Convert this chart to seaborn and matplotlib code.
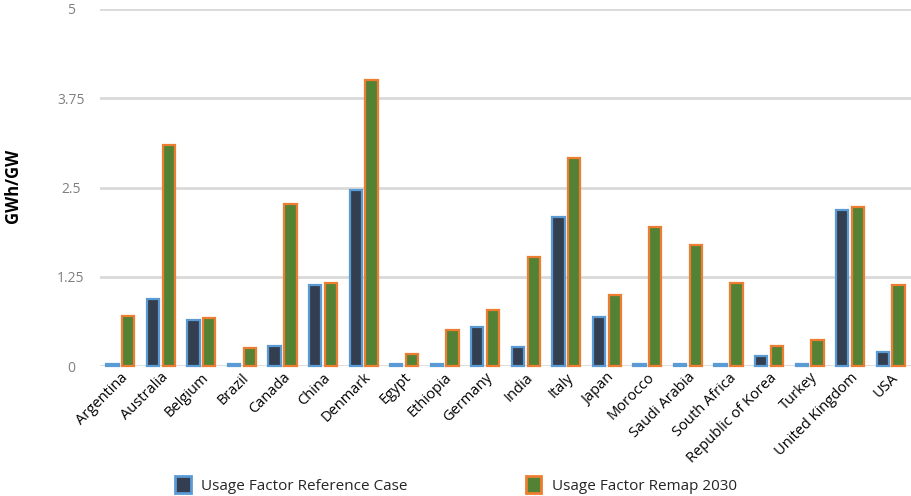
import matplotlib
matplotlib.use("Agg")
import matplotlib.pyplot as plt
import seaborn as sns
import pandas as pd
from matplotlib.patches import Patch

countries = ["Argentina", "Australia", "Belgium", "Brazil", "Canada", "China", "Denmark",
             "Egypt", "Ethiopia", "Germany", "India", "Italy", "Japan", "Morocco",
             "Saudi Arabia", "South Africa", "Republic of Korea", "Turkey",
             "United Kingdom", "USA"]
reference_case = [0.03, 0.94, 0.64, 0.03, 0.28, 1.13, 2.46, 0.03, 0.03, 0.54, 0.26, 2.08,
                  0.68, 0.03, 0.03, 0.03, 0.14, 0.03, 2.19, 0.20]
remap_2030 = [0.70, 3.10, 0.67, 0.25, 2.27, 1.16, 4.00, 0.17, 0.50, 0.79, 1.53, 2.92,
              1.00, 1.94, 1.69, 1.16, 0.28, 0.37, 2.22, 1.14]
series_names = ["Usage Factor Reference Case", "Usage Factor Remap 2030"]
y_ticks = [0, 1.25, 2.5, 3.75, 5]
y_tick_labels = ["0", "1.25", "2.5", "3.75", "5"]

fills = ["#333f50", "#548235"]
edges = ["#5b9bd5", "#ed7d31"]

df = pd.DataFrame({
    "country": countries * 2,
    "value": reference_case + remap_2030,
    "series": [series_names[0]] * len(countries) + [series_names[1]] * len(countries),
})

sns.set_theme(style="white")
plt.rcParams["font.family"] = ["Open Sans", "DejaVu Sans"]

fig = plt.figure(figsize=(9.12, 4.96), dpi=100)
ax = fig.add_axes([100 / 912, 1 - 366 / 496, 811 / 912, 357 / 496])

sns.barplot(data=df, x="country", y="value", hue="series", palette=fills,
            width=0.78, gap=0.22, ax=ax, legend=False, saturation=1)

for cont, ec in zip(ax.containers, edges):
    for bar in cont:
        bar.set_edgecolor(ec)
        bar.set_linewidth(1.6)
        bar.set_clip_on(False)
        bar.set_zorder(3)
        if bar.get_height() < 0.05:
            bar.set_facecolor(ec)

ax.set_ylim(0, 5)
ax.set_xlim(-0.5, len(countries) - 0.5)
ax.set_yticks(y_ticks)
ax.set_yticklabels(y_tick_labels, color="#7f7f7f", fontsize=10, ha="center")
ax.yaxis.grid(True, color="#d9d9d9", linewidth=2)
ax.set_axisbelow(True)
for s in ax.spines.values():
    s.set_visible(False)
ax.tick_params(axis="y", length=0, pad=21)
ax.tick_params(axis="x", length=0, pad=3)
ax.set_xticks(range(len(countries)))
ax.set_xticklabels(countries, rotation=45, ha="right", rotation_mode="anchor",
                   fontsize=10.5, color="#000000", fontweight="medium")
ax.set_xlabel("")
ax.set_ylabel("GWh/GW", fontsize=12, fontweight="bold", color="#000000")
ax.yaxis.set_label_coords(-0.096, 0.505)

handles = [Patch(facecolor=fills[i], edgecolor=edges[i], linewidth=2) for i in range(2)]
fig.legend(handles, series_names, loc="center", bbox_to_anchor=(0.5, 11 / 496),
           ncol=2, frameon=False, fontsize=11, handlelength=1.0, handleheight=1.25,
           columnspacing=7.7, handletextpad=0.7)

fig.savefig("out.png", dpi=100)
